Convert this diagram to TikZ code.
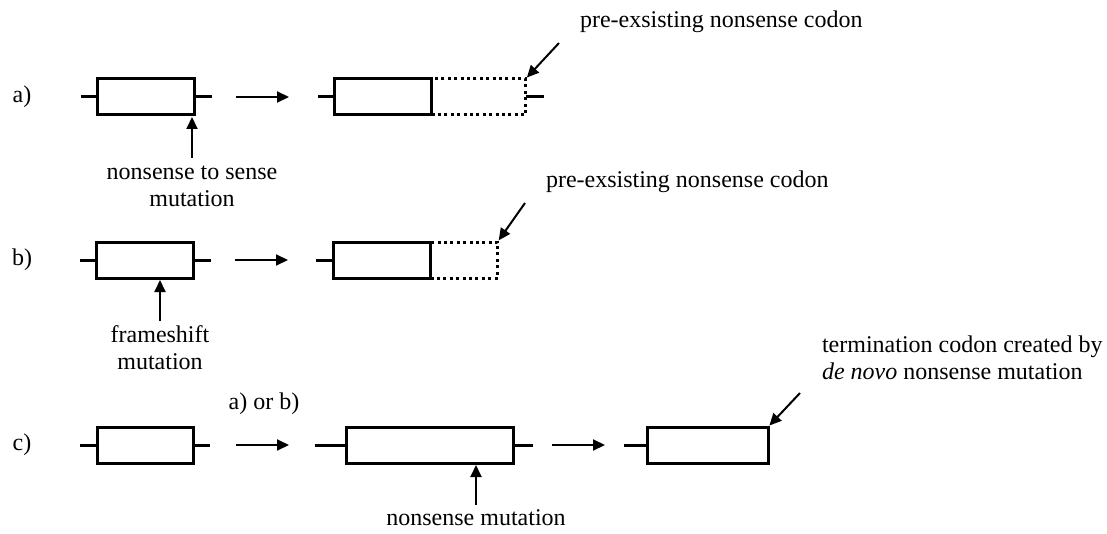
\documentclass[tikz,border=0pt]{standalone}
\usepackage{fontspec}
\setmainfont{Liberation Serif}
\usetikzlibrary{positioning,arrows.meta}
\tikzstyle{gene} = [rectangle, draw, line width=1.5pt, minimum height=18pt, inner sep=0pt, outer sep=0pt]
\tikzstyle{ext} = [rectangle, draw, line width=1.5pt, dash pattern=on 1.5pt off 1.7pt, minimum height=18pt, inner sep=0pt, outer sep=0pt]
\tikzstyle{stub} = [-, line width=1.5pt]
\tikzstyle{txt} = [align=center, inner sep=1pt, font=\fontsize{12}{13.5}\selectfont]

\begin{document}
\begin{tikzpicture}[->,>={Triangle[length=6pt,width=5.5pt]},x=0.5pt,y=-0.5pt,line width=1pt,node distance=0pt]
  \useasboundingbox (0,0) rectangle (1107,534);

  % a) nonsense to sense
  \node[txt] (lab_a) at (22,97) {a)};
  \node[gene, minimum width=48.5pt] (a_eins) at (146,97) {};
  \node[gene, minimum width=48.5pt] (a_zwei) at (383,97) {};
  \node[ext, minimum width=47pt, right=of a_zwei] (a_ext) {};
  \node[txt] (txt_a) at (192,186) {nonsense to sense\\mutation};
  \node[txt, anchor=west] (ptr_a) at (577,22) {pre-exsisting nonsense codon};
  \coordinate (ptr_a_start) at (559,43);
  \draw[stub] (a_eins.west) -- ++(-17,0);
  \draw[stub] (a_eins.east) -- ++(17,0);
  \draw[stub] (a_zwei.west) -- ++(-17,0);
  \draw[stub] (a_ext.east) -- ++(18,0);
  \path (a_eins) edge[shorten <=20.75pt, shorten >=22.75pt] (a_zwei);
  \path (txt_a) edge[shorten <=2.5pt, shorten >=1pt] (txt_a |- a_eins.south);
  \path (ptr_a_start) edge[shorten >=1pt] (a_ext.north east);

  % b) frameshift
  \node[txt] (lab_b) at (22,260) {b)};
  \node[gene, minimum width=48.5pt] (b_eins) at (145,260) {};
  \node[gene, minimum width=48.5pt] (b_zwei) at (382,260) {};
  \node[ext, minimum width=33.5pt, right=of b_zwei] (b_ext) {};
  \node[txt] (txt_b) at (160,348) {frameshift\\mutation};
  \node[txt, anchor=west] (ptr_b) at (543,182) {pre-exsisting nonsense codon};
  \coordinate (ptr_b_start) at (525,203);
  \draw[stub] (b_eins.west) -- ++(-17,0);
  \draw[stub] (b_eins.east) -- ++(17,0);
  \draw[stub] (b_zwei.west) -- ++(-18,0);
  \path (b_eins) edge[shorten <=20.75pt, shorten >=22.75pt] (b_zwei);
  \path (txt_b) edge[shorten <=1pt, shorten >=1pt] (txt_b |- b_eins.south);
  \path (ptr_b_start) edge[shorten >=1pt] (b_ext.north east);

  % c) de novo nonsense mutation
  \node[txt] (lab_c) at (22,445) {c)};
  \node[gene, minimum width=48pt] (c_eins) at (145,445) {};
  \node[gene, minimum width=83.5pt] (c_zwei) at (429.5,445) {};
  \node[gene, minimum width=60.5pt] (c_drei) at (707.5,445) {};
  \node[txt] (txt_or) at (264,404) {a) or b)};
  \node[txt] (txt_c) at (476,518) {nonsense mutation};
  \node[txt, anchor=west, align=left] (ptr_c) at (819,357.5) {termination codon created by\\\textit{de novo} nonsense mutation};
  \coordinate (ptr_c_start) at (800,393);
  \draw[stub] (c_eins.west) -- ++(-17,0);
  \draw[stub] (c_eins.east) -- ++(17,0);
  \draw[stub] (c_zwei.west) -- ++(-31,0);
  \draw[stub] (c_zwei.east) -- ++(20,0);
  \draw[stub] (c_drei.west) -- ++(-23,0);
  \path (c_eins) edge[shorten <=21.5pt, shorten >=28.5pt] (c_zwei);
  \path (c_zwei) edge[shorten <=19.5pt, shorten >=21pt] (c_drei);
  \path (txt_c) edge[shorten <=1pt, shorten >=1pt] (txt_c |- c_zwei.south);
  \path (ptr_c_start) edge[shorten >=1pt] (c_drei.north east);
\end{tikzpicture}
\end{document}
